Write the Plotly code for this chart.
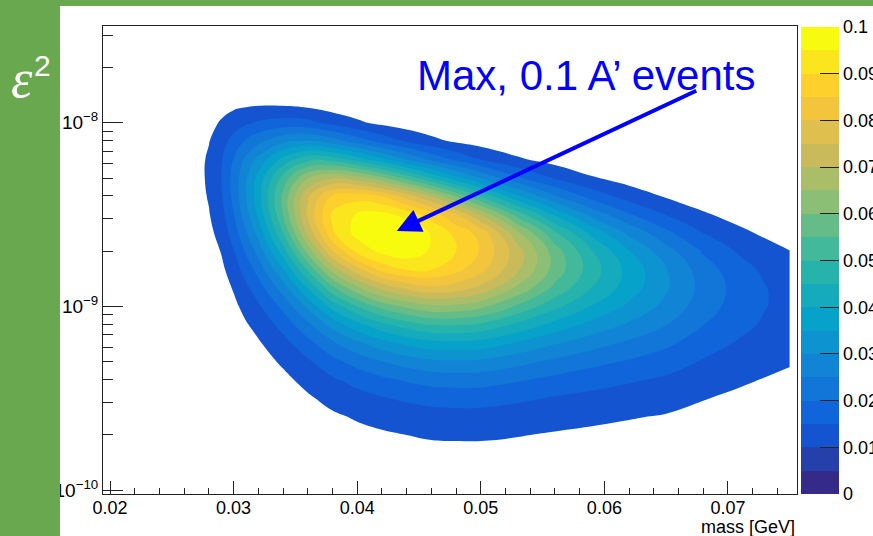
import plotly.graph_objects as go

# ---- data ----
mass_gev = [0.027, 0.028, 0.029, 0.030, 0.031, 0.032, 0.034, 0.036, 0.038, 0.040, 0.042, 0.044,
            0.046, 0.048, 0.050, 0.053, 0.056, 0.059, 0.062, 0.065, 0.068, 0.071, 0.073, 0.075]
log10_eps2 = [-9.8, -9.7, -9.6, -9.5, -9.4, -9.3, -9.2, -9.1, -9.0, -8.9, -8.8, -8.7, -8.6,
              -8.5, -8.4, -8.3, -8.2, -8.1, -8.0, -7.9, -7.8]
# expected A' events, in units of 1e-4, one row per log10(eps^2) value
events_e4 = [
    [0, 0, 1, 2, 3, 4, 8, 13, 19, 25, 30, 34, 37, 38, 38, 35, 31, 28, 25, 22, 18, 14, 12, 11],
    [0, 1, 1, 3, 4, 6, 12, 20, 29, 37, 44, 50, 55, 56, 56, 52, 46, 41, 37, 33, 26, 21, 18, 16],
    [1, 1, 2, 4, 7, 10, 18, 29, 43, 55, 65, 74, 80, 83, 82, 75, 67, 60, 53, 47, 37, 30, 25, 22],
    [1, 2, 3, 6, 10, 14, 26, 44, 64, 81, 96, 108, 117, 120, 120, 109, 96, 86, 76, 66, 52, 41, 35, 31],
    [1, 2, 4, 9, 15, 21, 39, 64, 93, 117, 139, 156, 169, 173, 171, 155, 136, 120, 106, 92, 72, 56, 48, 41],
    [2, 4, 7, 13, 22, 31, 57, 93, 135, 169, 199, 222, 240, 244, 240, 216, 189, 165, 145, 124, 96, 74, 63, 54],
    [3, 5, 10, 19, 32, 45, 83, 134, 192, 240, 281, 311, 333, 337, 330, 294, 255, 221, 191, 161, 123, 94, 79, 66],
    [4, 8, 14, 27, 46, 65, 118, 189, 269, 333, 386, 424, 451, 452, 440, 388, 332, 284, 242, 201, 151, 113, 93, 77],
    [6, 11, 20, 39, 65, 92, 164, 261, 368, 450, 517, 561, 590, 586, 564, 491, 414, 347, 290, 236, 173, 126, 102, 84],
    [9, 16, 28, 54, 90, 126, 224, 352, 487, 587, 665, 712, 738, 724, 688, 588, 486, 399, 324, 256, 183, 129, 102, 82],
    [12, 22, 39, 74, 121, 169, 295, 456, 619, 733, 816, 850, 850, 815, 765, 657, 530, 423, 332, 253, 174, 118, 91, 70],
    [16, 29, 52, 97, 157, 218, 373, 565, 747, 864, 912, 932, 893, 850, 795, 671, 525, 402, 303, 220, 144, 93, 69, 51],
    [21, 38, 67, 123, 195, 268, 447, 659, 843, 918, 975, 962, 893, 835, 783, 610, 459, 335, 238, 163, 100, 60, 42, 30],
    [27, 47, 82, 147, 229, 309, 500, 711, 860, 905, 915, 880, 825, 752, 645, 478, 341, 233, 155, 98, 56, 31, 20, 14],
    [31, 54, 94, 164, 248, 329, 512, 695, 806, 827, 799, 730, 644, 543, 445, 309, 206, 130, 78, 45, 23, 11, 7, 4],
    [34, 58, 100, 167, 244, 316, 467, 597, 645, 620, 561, 481, 397, 315, 244, 156, 95, 54, 29, 15, 6, 3, 2, 1],
    [33, 57, 95, 152, 211, 265, 367, 435, 428, 378, 315, 249, 189, 139, 99, 57, 31, 15, 7, 3, 1, 0, 0, 0],
    [29, 48, 79, 118, 155, 187, 238, 255, 223, 177, 132, 94, 64, 42, 28, 14, 7, 3, 1, 0, 0, 0, 0, 0],
    [21, 35, 55, 76, 92, 106, 120, 114, 85, 59, 38, 24, 14, 8, 5, 2, 1, 0, 0, 0, 0, 0, 0, 0],
    [13, 20, 31, 38, 42, 45, 44, 35, 22, 13, 7, 4, 2, 1, 0, 0, 0, 0, 0, 0, 0, 0, 0, 0],
    [6, 9, 13, 14, 13, 13, 11, 7, 3, 2, 1, 0, 0, 0, 0, 0, 0, 0, 0, 0, 0, 0, 0, 0],
]
x_ticks = [0.02, 0.03, 0.04, 0.05, 0.06, 0.07]
x_ticktext = ['0.02', '0.03', '0.04', '0.05', '0.06', '0.07']
y_ticks = [1e-10, 1e-9, 1e-8]
y_ticktext = ['10<sup>−10</sup>', '10<sup>−9</sup>', '10<sup>−8</sup>']
z_ticks = [0.0, 0.01, 0.02, 0.03, 0.04, 0.05, 0.06, 0.07, 0.08, 0.09, 0.1]
z_ticktext = ['0', '0.01', '0.02', '0.03', '0.04', '0.05', '0.06', '0.07', '0.08', '0.09', '0.1']
level_step = 0.005
n_bands = 20

# ---- ROOT "bird" palette ----
stops = [0.0, 0.125, 0.25, 0.375, 0.5, 0.625, 0.75, 0.875, 1.0]
red = [0.2082, 0.0592, 0.0780, 0.0232, 0.1802, 0.5301, 0.8186, 0.9956, 0.9764]
grn = [0.1664, 0.3599, 0.5041, 0.6419, 0.7178, 0.7492, 0.7328, 0.7862, 0.9832]
blu = [0.5293, 0.8684, 0.8385, 0.7914, 0.6425, 0.4662, 0.3499, 0.1968, 0.0539]


def interp(p, xp, fp):
    for i in range(len(xp) - 1):
        if p <= xp[i + 1]:
            f = (p - xp[i]) / (xp[i + 1] - xp[i])
            return fp[i] + f * (fp[i + 1] - fp[i])
    return fp[-1]


def bird(p):
    return 'rgb(%d,%d,%d)' % tuple(int(round(255 * interp(p, stops, c))) for c in (red, grn, blu))


band_cols = [bird(k / (n_bands - 1)) for k in range(n_bands)]
nl = n_bands - 1
cs_plot = [[0, 'white']] + [[j / nl, band_cols[min(j + 1, nl)]] for j in range(1, n_bands)]
cs_bar = [[0, band_cols[0]]] + [[(k + 0.5) / n_bands, band_cols[k]] for k in range(n_bands)] + [[1, band_cols[-1]]]

fig = go.Figure()
fig.add_trace(go.Contour(
    x=mass_gev, y=[10 ** v for v in log10_eps2], z=[[v * 1e-4 for v in r] for r in events_e4],
    contours=dict(start=level_step, end=level_step * (n_bands - 1), size=level_step, coloring='fill', showlines=False),
    colorscale=cs_plot, line=dict(width=0, smoothing=1.3), showscale=False, hoverinfo='skip'))
fig.add_trace(go.Heatmap(
    x=[0], y=[level_step * (k + 0.5) for k in range(n_bands)], z=[[k] for k in range(n_bands)],
    colorscale=cs_bar, zmin=-0.5, zmax=n_bands - 0.5, showscale=False, xaxis='x2', yaxis='y2', hoverinfo='skip'))

font = dict(family='Liberation Sans, Arial', size=18, color='black')
yfont = dict(family='Liberation Sans, Arial', size=19, color='black')
axcol = '#222'
fig.update_layout(
    width=873, height=536, margin=dict(l=103, r=34, t=26, b=42, autoexpand=False),
    paper_bgcolor='white', plot_bgcolor='white', showlegend=False,
    xaxis=dict(domain=[0, 0.942935], range=[0.019434, 0.075583],
               tickvals=x_ticks, ticktext=x_ticktext, ticks='inside', ticklen=13, tickcolor=axcol, tickfont=font,
               ticklabelstandoff=-3,
               minor=dict(ticks='inside', ticklen=6.5, tickcolor=axcol, tickvals=[0.02 + 0.002 * i for i in range(28)]),
               showline=True, mirror=True, linecolor=axcol, linewidth=1, showgrid=False, zeroline=False),
    yaxis=dict(type='log', domain=[0, 1], range=[-10.0218, -7.4733],
               tickvals=y_ticks, ticktext=y_ticktext, ticks='inside', ticklen=20, tickcolor=axcol, tickfont=yfont,
               minor=dict(ticks='inside', ticklen=10, tickcolor=axcol,
                          tickvals=[k * t for t in y_ticks for k in range(2, 10)]),
               showline=True, mirror=True, linecolor=axcol, linewidth=1, showgrid=False, zeroline=False),
    xaxis2=dict(domain=[0.94837, 1.0], range=[-0.5, 0.5], visible=False, anchor='y2'),
    yaxis2=dict(domain=[0, 0.99786], range=[0, 0.1], anchor='x2', side='right',
                tickvals=z_ticks, ticktext=z_ticktext, ticks='inside', ticklen=19, tickcolor=axcol, tickfont=font,
                ticklabelstandoff=3, showline=False, showgrid=False, zeroline=False),
)

green = '#6aa84f'
fig.add_shape(type='rect', xref='paper', yref='paper', x0=-0.2, x1=-43 / 736, y0=-0.2, y1=1.2,
              fillcolor=green, line_width=0, layer='above')
fig.add_shape(type='rect', xref='paper', yref='paper', x0=-0.2, x1=1.2, y0=488 / 468, y1=1.2,
              fillcolor=green, line_width=0, layer='above')


def px(xp):
    return (xp - 103) / 736


def py(yp):
    return (494 - yp) / 468


fig.add_annotation(xref='paper', yref='paper', x=px(22), y=py(79), xanchor='center', yanchor='middle',
                   text='<i>ε</i>', showarrow=False, font=dict(family='Liberation Serif', size=54, color='white'))
fig.add_annotation(xref='paper', yref='paper', x=px(42), y=py(65), xanchor='center', yanchor='middle',
                   text='2', showarrow=False, font=dict(family='Liberation Sans', size=30, color='white'))
fig.add_annotation(xref='paper', yref='paper', x=px(586), y=py(76), xanchor='center', yanchor='middle',
                   text='Max, 0.1 A’ events', showarrow=False,
                   font=dict(family='Liberation Sans, Arial', size=42, color='#0000ff'))
fig.add_annotation(x=0.0432, y=-8.59, xref='x', yref='y', text='', showarrow=True, ax=301, ay=-141,
                   arrowcolor='#0000ff', arrowwidth=4, arrowhead=2, arrowsize=1.2)
fig.add_annotation(xref='paper', yref='paper', x=px(797), y=py(527), xanchor='right', yanchor='middle',
                   text='mass [GeV]', showarrow=False, font=font)
fig.write_html('out.html')
